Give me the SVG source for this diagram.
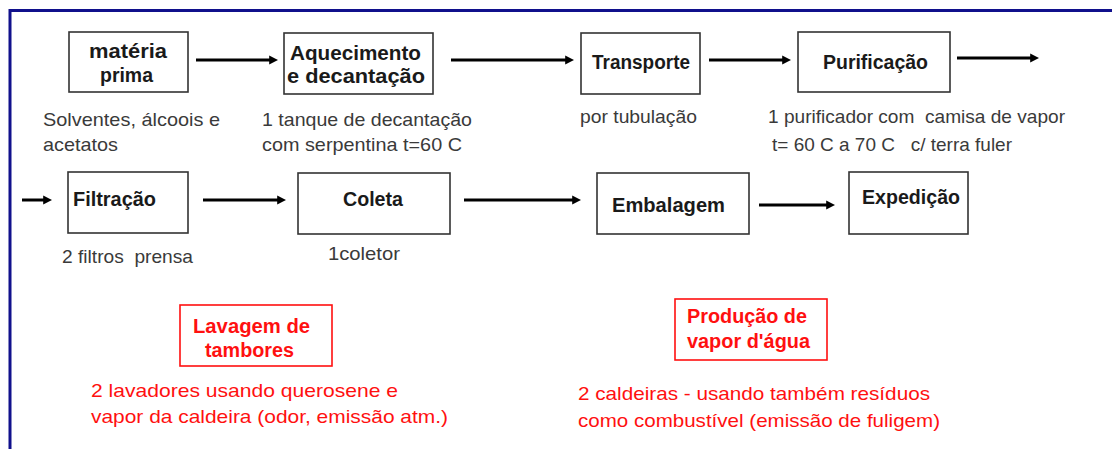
<svg xmlns="http://www.w3.org/2000/svg" width="1112" height="449" viewBox="0 0 1112 449">
<style>
text{white-space:pre}
.box{fill:#fff;stroke:#333;stroke-width:1.6}
.rbox{fill:#fff;stroke:#ff1010;stroke-width:1.6}
.t{font-family:"Liberation Sans",Arial,sans-serif;font-weight:bold;font-size:19.5px;fill:#1a1a1a}
.n{font-family:"Liberation Sans",Arial,sans-serif;font-size:19px;fill:#3a3a3a}
.r{font-family:"Liberation Sans",Arial,sans-serif;font-weight:bold;font-size:19.5px;fill:#ff1010}
.rn{font-family:"Liberation Sans",Arial,sans-serif;font-size:19px;fill:#ff1010}
.c{stroke:#000;stroke-width:3;fill:none;marker-end:url(#ah)}
</style>
<defs>
<marker id="ah" viewBox="0 0 10 10" refX="2" refY="5" markerWidth="3" markerHeight="3.4" orient="auto" markerUnits="strokeWidth">
<path d="M0,0 L10,5 L0,10 Z" fill="#000"/>
</marker>
</defs>
<rect width="1112" height="449" fill="#fff"/>
<g id="frame">
<line x1="10" y1="10.5" x2="1112" y2="10.5" stroke="#10108c" stroke-width="3"/>
<line x1="10" y1="9" x2="10" y2="449" stroke="#10108c" stroke-width="3"/>
</g>
<g id="connectors">
<line class="c" x1="196" y1="60" x2="271" y2="60"/>
<line class="c" x1="451" y1="60" x2="567" y2="60"/>
<line class="c" x1="709" y1="60" x2="784" y2="60"/>
<line class="c" x1="957" y1="58" x2="1032" y2="58"/>
<line class="c" x1="22" y1="200" x2="45" y2="200"/>
<line class="c" x1="203" y1="200" x2="279" y2="200"/>
<line class="c" x1="464" y1="200" x2="574" y2="200"/>
<line class="c" x1="759" y1="205" x2="828" y2="205"/>
</g>
<g id="materia">
<rect class="box" x="69" y="32" width="119" height="60"/>
<text class="t" x="89" y="58" textLength="78" lengthAdjust="spacingAndGlyphs">matéria</text>
<text class="t" x="100" y="82" textLength="53" lengthAdjust="spacingAndGlyphs">prima</text>
<text class="n" x="43" y="126" textLength="177" lengthAdjust="spacingAndGlyphs">Solventes, álcoois e</text>
<text class="n" x="43" y="151" textLength="75" lengthAdjust="spacingAndGlyphs">acetatos</text>
</g>
<g id="aquecimento">
<rect class="box" x="284" y="33" width="149" height="61"/>
<text class="t" x="290" y="60" textLength="131" lengthAdjust="spacingAndGlyphs">Aquecimento</text>
<text class="t" x="287" y="83" textLength="138" lengthAdjust="spacingAndGlyphs">e decantação</text>
<text class="n" x="262" y="126" textLength="210" lengthAdjust="spacingAndGlyphs">1 tanque de decantação</text>
<text class="n" x="262" y="151" textLength="200" lengthAdjust="spacingAndGlyphs">com serpentina t=60 C</text>
</g>
<g id="transporte">
<rect class="box" x="581" y="33" width="119" height="61"/>
<text class="t" x="592" y="69" textLength="98" lengthAdjust="spacingAndGlyphs">Transporte</text>
<text class="n" x="580" y="123" textLength="117" lengthAdjust="spacingAndGlyphs">por tubulação</text>
</g>
<g id="purificacao">
<rect class="box" x="798" y="32" width="152" height="60"/>
<text class="t" x="823" y="69" textLength="105" lengthAdjust="spacingAndGlyphs">Purificação</text>
<text class="n" x="768" y="123" textLength="297" lengthAdjust="spacingAndGlyphs">1 purificador com  camisa de vapor</text>
<text class="n" x="772" y="151" textLength="240" lengthAdjust="spacingAndGlyphs">t= 60 C a 70 C   c/ terra fuler</text>
</g>
<g id="filtracao">
<rect class="box" x="68" y="172" width="120" height="61"/>
<text class="t" x="73" y="206" textLength="83" lengthAdjust="spacingAndGlyphs">Filtração</text>
<text class="n" x="62" y="263" textLength="131" lengthAdjust="spacingAndGlyphs">2 filtros  prensa</text>
</g>
<g id="coleta">
<rect class="box" x="298" y="173" width="152" height="61"/>
<text class="t" x="343" y="206" textLength="60" lengthAdjust="spacingAndGlyphs">Coleta</text>
<text class="n" x="328" y="260" textLength="72" lengthAdjust="spacingAndGlyphs">1coletor</text>
</g>
<g id="embalagem">
<rect class="box" x="597" y="173" width="152" height="61"/>
<text class="t" x="612" y="212" textLength="113" lengthAdjust="spacingAndGlyphs">Embalagem</text>
</g>
<g id="expedicao">
<rect class="box" x="849" y="172" width="119" height="62"/>
<text class="t" x="862" y="204" textLength="98" lengthAdjust="spacingAndGlyphs">Expedição</text>
</g>
<g id="lavagem">
<rect class="rbox" x="180" y="305" width="152" height="61"/>
<text class="r" x="193" y="333" textLength="117" lengthAdjust="spacingAndGlyphs">Lavagem de</text>
<text class="r" x="205" y="357" textLength="89" lengthAdjust="spacingAndGlyphs">tambores</text>
<text class="rn" x="91" y="397" textLength="307" lengthAdjust="spacingAndGlyphs">2 lavadores usando querosene e</text>
<text class="rn" x="91" y="423" textLength="357" lengthAdjust="spacingAndGlyphs">vapor da caldeira (odor, emissão atm.)</text>
</g>
<g id="producao">
<rect class="rbox" x="675" y="299" width="152" height="61"/>
<text class="r" x="687" y="323" textLength="120" lengthAdjust="spacingAndGlyphs">Produção de</text>
<text class="r" x="687" y="348" textLength="123" lengthAdjust="spacingAndGlyphs">vapor d'água</text>
<text class="rn" x="578" y="400" textLength="352" lengthAdjust="spacingAndGlyphs">2 caldeiras - usando também resíduos</text>
<text class="rn" x="578" y="427" textLength="362" lengthAdjust="spacingAndGlyphs">como combustível (emissão de fuligem)</text>
</g>
</svg>
